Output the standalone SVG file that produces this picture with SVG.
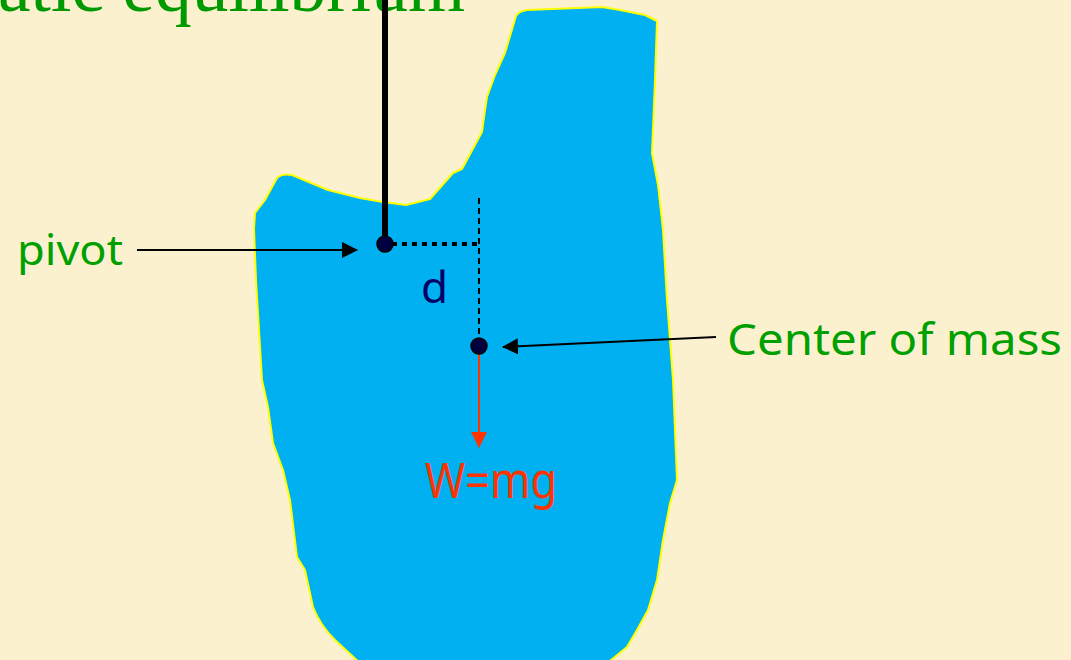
<svg xmlns="http://www.w3.org/2000/svg" width="1071" height="660" viewBox="0 0 1071 660">
  <style>
    .lbl { font-family: "Comic Sans MS", "Noto Sans", "DejaVu Sans", sans-serif; }
    .green { fill: #00a000; }
  </style>
  <defs>
    <marker id="ah" markerWidth="16" markerHeight="16" viewBox="0 0 16 16" refX="15" refY="8" orient="auto" markerUnits="userSpaceOnUse">
      <path d="M0,0 L16,8 L0,16 Z" fill="#000"/>
    </marker>
    <marker id="ahr" markerWidth="16" markerHeight="16" viewBox="0 0 16 16" refX="15" refY="8" orient="auto" markerUnits="userSpaceOnUse">
      <path d="M0,0 L16,8 L0,16 Z" fill="#ff3300"/>
    </marker>
  </defs>
  <rect width="1071" height="660" fill="#fcf1cf"/>
  <text x="-2" y="11" font-family="'Liberation Serif', serif" font-size="74" fill="#009900" textLength="467" lengthAdjust="spacingAndGlyphs">atic equilibrium</text>

  <g id="body">
    <path d="M254,229 L255,213 L265,200 L277,178 Q282,173 292,175 L328,190 L360,198 L383,202 L406,205 L430,199 L453,173 L462,169 L482,132 L485,110 L487,97 L495,75 L505,53 L516,16 Q519,11 527,10 L602,7 L620,10 L645,15 L657,21 L655,80 L652,153 L658,185 L663,230 L667,300 L673,380 L677,480 L670,503 L663,540 L657,580 L648,610 L637,630 L627,647 L605,665 L362,665 L335,640 Q320,625 313,607 L305,570 L297,557 L290,500 L283,470 L273,443 L268,407 L262,380 L259,330 L256,280 Z" fill="#00b0f0" stroke="#ffff00" stroke-width="2" stroke-linejoin="round"/>
  </g>

  <g id="connectors">
    <line x1="385" y1="0" x2="385" y2="244" stroke="#000" stroke-width="6"/>
    <line x1="392" y1="244" x2="481" y2="244" stroke="#000" stroke-width="4" stroke-dasharray="5 5"/>
    <line x1="479" y1="198" x2="479" y2="340" stroke="#000" stroke-width="2" stroke-dasharray="6 4"/>
    <line x1="137" y1="250" x2="357" y2="250" stroke="#000" stroke-width="2" marker-end="url(#ah)"/>
    <line x1="716" y1="337" x2="503" y2="347" stroke="#000" stroke-width="2" marker-end="url(#ah)"/>
    <line x1="479" y1="346" x2="479" y2="447" stroke="#ff3300" stroke-width="2" marker-end="url(#ahr)"/>
  </g>

  <g id="pivot">
    <circle cx="385" cy="244" r="8" fill="#000040" stroke="#000" stroke-width="1.5"/>
    <text class="lbl green" x="17" y="265" font-size="42" textLength="106" lengthAdjust="spacingAndGlyphs">pivot</text>
  </g>

  <g id="d-label">
    <text class="lbl" x="421" y="303" font-size="44" fill="#000066">d</text>
  </g>

  <g id="center-of-mass">
    <circle cx="479" cy="346" r="8" fill="#000040" stroke="#000" stroke-width="1.5"/>
    <text class="lbl green" x="727" y="355" font-size="44" textLength="335" lengthAdjust="spacingAndGlyphs">Center of mass</text>
  </g>

  <g id="weight">
    <text class="lbl" x="425" y="498" font-size="50" fill="#ff3300" textLength="132" lengthAdjust="spacingAndGlyphs">W=mg</text>
  </g>
</svg>
